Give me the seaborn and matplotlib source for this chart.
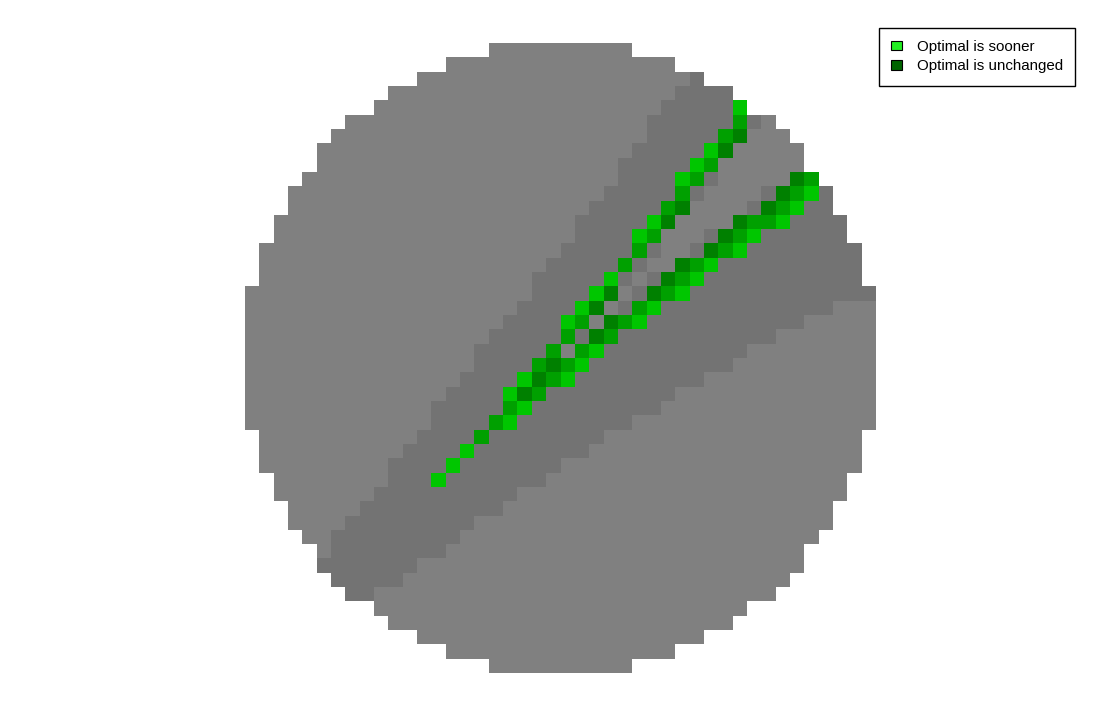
import numpy as np
import pandas as pd
import matplotlib
matplotlib.use("Agg")
import matplotlib.pyplot as plt
from matplotlib.colors import ListedColormap
from matplotlib.patches import Patch
import seaborn as sns

# cell states, one run-length string per grid row (x = outside the disc)
# L light gray, D dark gray, g dark green, m medium green, b bright green
cell_rows = [
    "x17 L10 x17",
    "x14 L16 x14",
    "x12 L19 D1 x12",
    "x10 L20 D4 x10",
    "x9 L20 D5 b1 x9",
    "x7 L21 D6 m1 D1 L1 x7",
    "x6 L22 D5 m1 g1 L3 x6",
    "x5 L22 D5 b1 g1 L5 x5",
    "x5 L21 D5 b1 m1 L6 x5",
    "x4 L22 D4 b1 m1 D1 L5 g1 m1 x4",
    "x3 L22 D5 m1 D1 L4 D1 g1 m1 b1 D1 x3",
    "x3 L21 D5 m1 g1 L4 D1 g1 m1 b1 D2 x3",
    "x2 L21 D5 b1 g1 L4 g1 m2 b1 D4 x2",
    "x2 L21 D4 b1 m1 L3 D1 g1 m1 b1 D6 x2",
    "x1 L21 D5 m1 D1 L2 D1 g1 m1 b1 D8 x1",
    "x1 L20 D5 m1 D1 L2 g1 m1 b1 D10 x1",
    "x1 L19 D5 b1 D1 L1 D1 g1 m1 b1 D11 x1",
    "L20 D4 b1 g1 L1 D1 g1 m1 b1 D13",
    "L19 D4 b1 g1 L1 D1 m1 b1 D12 L3",
    "L18 D4 b1 m1 L1 g1 m1 b1 D11 L5",
    "L17 D5 m1 D1 g1 m1 D11 L7",
    "L16 D5 m1 L1 m1 b1 D10 L9",
    "L16 D4 m1 g1 m1 b1 D10 L10",
    "L15 D4 b1 g1 m1 b1 D9 L12",
    "L14 D4 b1 g1 m1 D9 L14",
    "L13 D5 m1 b1 D9 L15",
    "L13 D4 m1 b1 D8 L17",
    "x1 L11 D4 m1 D8 L18 x1",
    "x1 L10 D4 b1 D8 L19 x1",
    "x1 L9 D4 b1 D7 L21 x1",
    "x2 L8 D3 b1 D7 L21 x2",
    "x2 L7 D10 L23 x2",
    "x3 L5 D10 L23 x3",
    "x3 L4 D9 L25 x3",
    "x4 L2 D9 L25 x4",
    "x5 L1 D8 L25 x5",
    "x5 D7 L27 x5",
    "x6 D5 L27 x6",
    "x7 D2 L28 x7",
    "x9 L26 x9",
    "x10 L24 x10",
    "x12 L20 x12",
    "x14 L16 x14",
    "x17 L10 x17",
]

state_codes = ["L", "D", "g", "m", "b"]
state_colors = ["#808080", "#737373", "#008000", "#00a000", "#00c600"]

legend_labels = ["Optimal is sooner", "Optimal is unchanged"]
legend_colors = ["#22ee22", "#006400"]


def expand(row):
    out = []
    for tok in row.split():
        code, n = tok[0], int(tok[1:])
        val = np.nan if code == "x" else state_codes.index(code)
        out += [val] * n
    return out


grid = pd.DataFrame([expand(r) for r in cell_rows])

fig = plt.figure(figsize=(11.2, 7.16), dpi=100)
ax = fig.add_axes([245 / 1120, 1 - 673 / 716, 631 / 1120, 630 / 716])

sns.heatmap(grid, ax=ax, cmap=ListedColormap(state_colors), vmin=-0.5, vmax=4.5,
            cbar=False, xticklabels=False, yticklabels=False)
ax.set_xlabel("")
ax.set_ylabel("")
ax.axis("off")

handles = [Patch(facecolor=c, edgecolor="black", linewidth=0.8) for c in legend_colors]
leg = fig.legend(handles, legend_labels, loc="upper right",
                 bbox_to_anchor=(1075 / 1120, 1 - 28 / 716),
                 prop={"family": "Liberation Sans", "size": 10.9},
                 frameon=True, fancybox=False, framealpha=1, edgecolor="black",
                 handlelength=0.75, handleheight=0.55, handletextpad=0.95,
                 labelspacing=0.35, borderpad=0.8, borderaxespad=0)
leg.get_frame().set_linewidth(1.0)

fig.savefig("out.png", dpi=100)
